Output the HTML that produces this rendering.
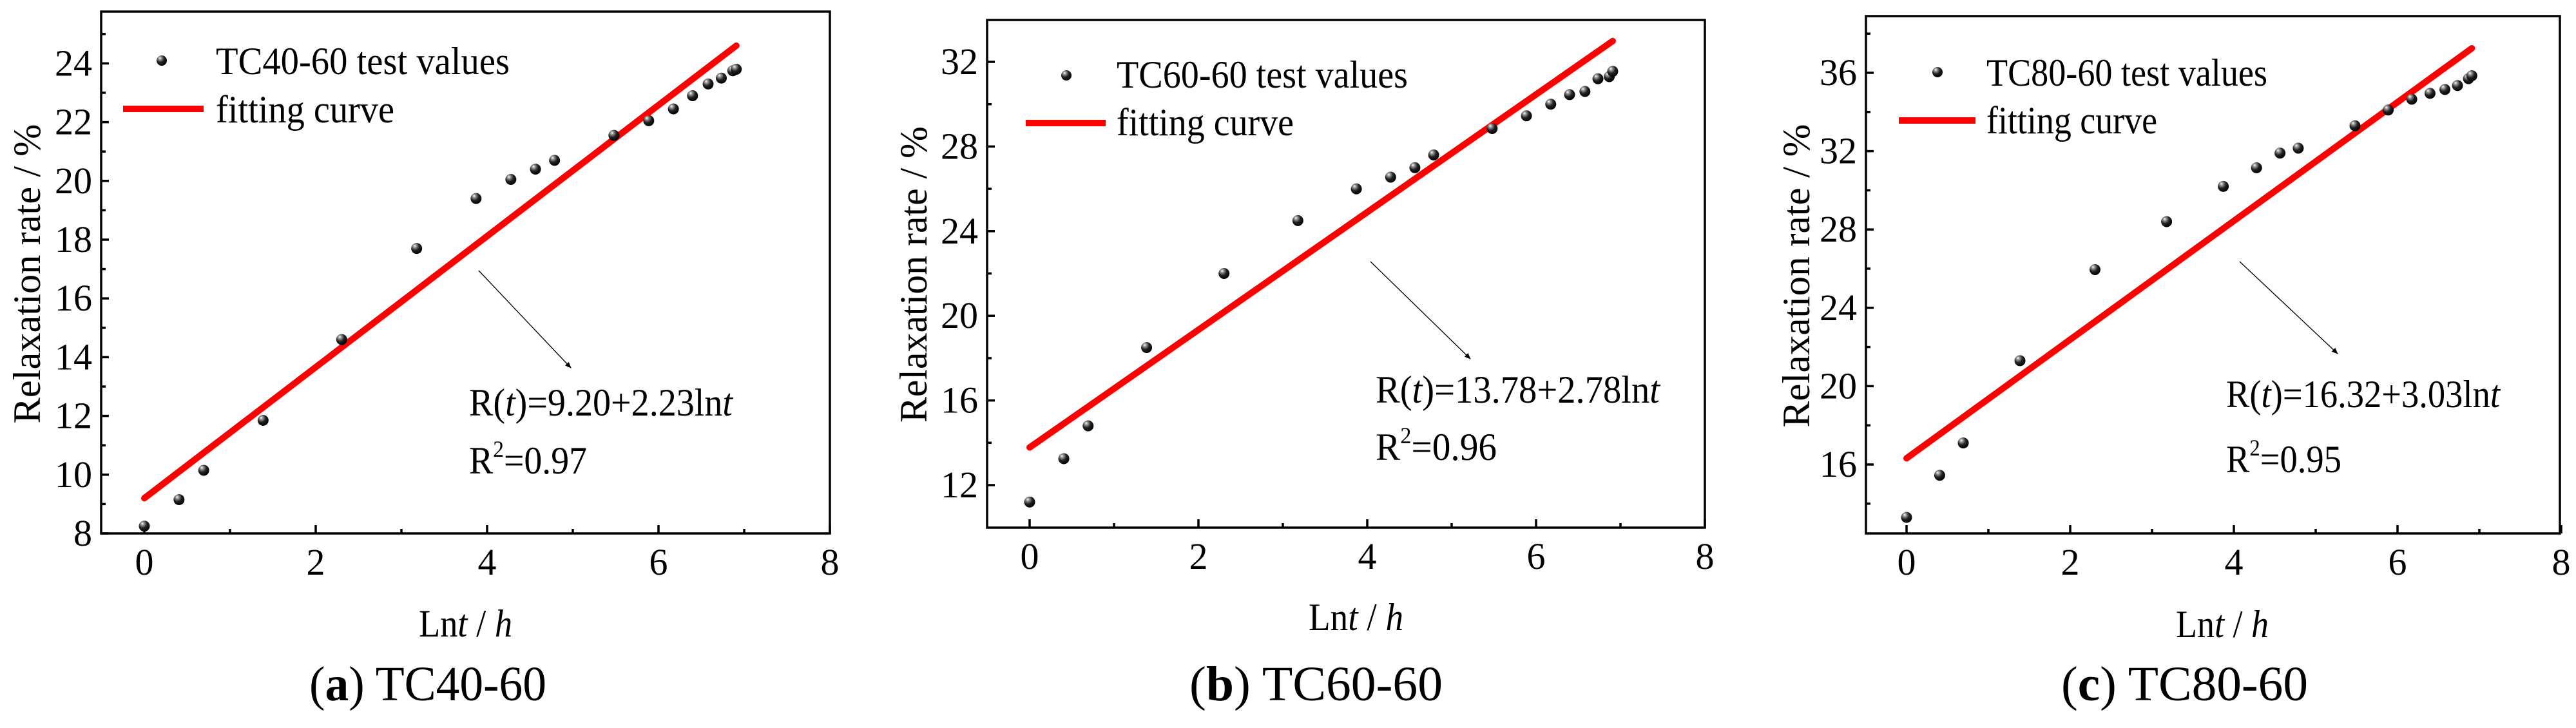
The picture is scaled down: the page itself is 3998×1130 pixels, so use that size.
<!DOCTYPE html>
<html><head><meta charset="utf-8">
<style>
html,body{margin:0;padding:0;background:#fff;}
svg{display:block;}
svg text, svg tspan{font-family:"Liberation Serif","Times New Roman",serif;fill:#000;}
</style></head>
<body>
<svg id="fig" width="3998" height="1130" viewBox="0 0 3998 1130" xmlns="http://www.w3.org/2000/svg" font-family="Liberation Serif, serif">
<defs>
<radialGradient id="ball" cx="0.38" cy="0.32" r="0.7" fx="0.32" fy="0.26">
<stop offset="0" stop-color="#ffffff"/>
<stop offset="0.2" stop-color="#9a9a9a"/>
<stop offset="0.55" stop-color="#222"/>
<stop offset="1" stop-color="#000"/>
</radialGradient>
<marker id="arrowhead" markerWidth="10" markerHeight="10" refX="9" refY="5" orient="auto" markerUnits="userSpaceOnUse">
<path d="M0,1 L10,5 L0,9 Z" fill="#000"/>
</marker>
</defs>
</svg>
<script>
// ---- data ----
const lnT = [0, 0.405, 0.693, 1.386, 2.303, 3.178, 3.871, 4.277, 4.564, 4.787, 5.48, 5.886, 6.174, 6.397, 6.579, 6.733, 6.867, 6.908];
const relaxA = [8.25, 9.15, 10.15, 11.85, 14.6, 17.7, 19.4, 20.05, 20.4, 20.7, 21.55, 22.05, 22.45, 22.9, 23.3, 23.5, 23.75, 23.8];
const relaxB = [11.2, 13.25, 14.8, 18.5, 22.0, 24.5, 26.0, 26.55, 27.0, 27.6, 28.85, 29.45, 30.0, 30.45, 30.6, 31.2, 31.3, 31.55];
const relaxC = [13.3, 15.45, 17.1, 21.3, 25.95, 28.4, 30.2, 31.15, 31.9, 32.15, 33.3, 34.1, 34.65, 34.95, 35.15, 35.35, 35.7, 35.85];
const fitInterceptA = 9.20, fitSlopeA = 2.23;
const fitInterceptB = 13.78, fitSlopeB = 2.78;
const fitInterceptC = 16.32, fitSlopeC = 3.03;
const fitRangeX = [0, 6.908];
const xTickLabels = [0, 2, 4, 6, 8];
const xMinorTicks = [1, 3, 5, 7];
const yTickLabelsA = [8, 10, 12, 14, 16, 18, 20, 22, 24];
const yMinorTicksA = [9, 11, 13, 15, 17, 19, 21, 23, 25];
const yTickLabelsB = [12, 16, 20, 24, 28, 32];
const yMinorTicksB = [14, 18, 22, 26, 30, 34];
const yTickLabelsC = [16, 20, 24, 28, 32, 36];
const yMinorTicksC = [14, 18, 22, 26, 30, 34, 38];

// ---- layout ----
const NS = "http://www.w3.org/2000/svg";
const svg = document.getElementById('fig');
function mk(tag, attrs, parent){
  const e = document.createElementNS(NS, tag);
  for (const k in attrs) e.setAttribute(k, attrs[k]);
  (parent||svg).appendChild(e);
  return e;
}
const panels = [
 {id:'a', label:'TC40-60', vals:relaxA, b0:fitInterceptA, b1:fitSlopeA, r2:'0.97',
  yt:yTickLabelsA, ym:yMinorTicksA, eqn:'9.20+2.23',
  L:157, R:1288, T:18, B:828, x0:224, ux:133, yref:8, yrefPx:828, uy:45.6,
  legMx:251, legMy:94, legTx:335, legTy:115, legTw:456, legLx1:191, legLx2:316, legLy:169, fitTy:190, fitTw:277,
  eqX:728, eqY:645, eqW:409, r2Y:735, r2W:183,
  arr:[743,420,886,571], xtX:650, xtY:988, xtW:145, ytX:62, ytY:425, ytW:465,
  capX:480, capY:1087, capW:368},
 {id:'b', label:'TC60-60', vals:relaxB, b0:fitInterceptB, b1:fitSlopeB, r2:'0.96',
  yt:yTickLabelsB, ym:yMinorTicksB, eqn:'13.78+2.78',
  L:1532, R:2646, T:31, B:819, x0:1598, ux:131, yref:12, yrefPx:753, uy:32.85,
  legMx:1655, legMy:117, legTx:1733, legTy:136, legTw:452, legLx1:1592, legLx2:1716, legLy:191, fitTy:210, fitTw:275,
  eqX:2135, eqY:625, eqW:441, r2Y:714, r2W:188,
  arr:[2127,406,2282,557], xtX:2031, xtY:978, xtW:147, ytX:1438, ytY:426, ytW:460,
  capX:1846, capY:1087, capW:393},
 {id:'c', label:'TC80-60', vals:relaxC, b0:fitInterceptC, b1:fitSlopeC, r2:'0.95',
  yt:yTickLabelsC, ym:yMinorTicksC, eqn:'16.32+3.03',
  L:2896, R:3973, T:25, B:828, x0:2959, ux:127, yref:16, yrefPx:721, uy:30.4,
  legMx:3007, legMy:112, legTx:3083, legTy:133, legTw:436, legLx1:2947, legLx2:3066, legLy:187, fitTy:207, fitTw:265,
  eqX:3455, eqY:632, eqW:425, r2Y:733, r2W:179,
  arr:[3476,406,3628,549], xtX:3377, xtY:989, xtW:144, ytX:2808, ytY:428, ytW:471,
  capX:3199, capY:1087, capW:383}
];

panels.forEach(p => {
  const g = mk('g', {});
  
  
  const X = v => p.x0 + v * p.ux;
  const Y = v => p.yrefPx - (v - p.yref) * p.uy;

  xTickLabels.forEach(v => {
    const t = mk('line', {x1:X(v), x2:X(v), y1:p.B, y2:p.B-13, stroke:'#000','stroke-width':3.5}, g);
    
    
    const lb = mk('text', {x:X(v), y:p.B+64, 'font-size':58, 'text-anchor':'middle'}, g);
    lb.innerHTML = '<tspan>' + v + '</tspan>';
    
    
  });
  xMinorTicks.forEach(v => {
    const t = mk('line', {x1:X(v), x2:X(v), y1:p.B, y2:p.B-7, stroke:'#000','stroke-width':3.5}, g);
    
    
  });
  p.yt.forEach(v => {
    const t = mk('line', {x1:p.L, x2:p.L+12, y1:Y(v), y2:Y(v), stroke:'#000','stroke-width':3.5}, g);
    
    
    const lb = mk('text', {x:p.L-14, y:Y(v)+19, 'font-size':58, 'text-anchor':'end'}, g);
    lb.innerHTML = '<tspan>' + v + '</tspan>';
    
    
  });
  p.ym.forEach(v => {
    if (Y(v) < p.T + 4) return;
    const t = mk('line', {x1:p.L, x2:p.L+7, y1:Y(v), y2:Y(v), stroke:'#000','stroke-width':3.5}, g);
    
    
  });

  const fr = mk('rect', {x:p.L, y:p.T, width:p.R-p.L, height:p.B-p.T, fill:'none', stroke:'#000', 'stroke-width':3.5}, g);
  
  

  const fl = mk('line', {x1:X(fitRangeX[0]), y1:Y(p.b0 + p.b1*fitRangeX[0]), x2:X(fitRangeX[1]), y2:Y(p.b0 + p.b1*fitRangeX[1]),
    stroke:'#ff0000', 'stroke-width':10, 'stroke-linecap':'round'}, g);
  
  

  lnT.forEach((xv, i) => {
    const c = mk('circle', {cx:X(xv), cy:Y(p.vals[i]), r:8.5, fill:'url(#ball)'}, g);
    
    
  });

  const lm = mk('circle', {cx:p.legMx, cy:p.legMy, r:8, fill:'url(#ball)'}, g);
  
  
  const lt = mk('text', {x:p.legTx, y:p.legTy, 'font-size':60, textLength:p.legTw, lengthAdjust:'spacingAndGlyphs'}, g);
  lt.innerHTML = p.label + ' test values';
  
  
  const ll = mk('line', {x1:p.legLx1, x2:p.legLx2, y1:p.legLy, y2:p.legLy, stroke:'#ff0000', 'stroke-width':10}, g);
  
  
  const lf = mk('text', {x:p.legTx, y:p.fitTy, 'font-size':60, textLength:p.fitTw, lengthAdjust:'spacingAndGlyphs'}, g);
  lf.innerHTML = 'fitting curve';
  
  

  const ar = mk('line', {x1:p.arr[0], y1:p.arr[1], x2:p.arr[2], y2:p.arr[3], stroke:'#000', 'stroke-width':1.3, 'marker-end':'url(#arrowhead)'}, g);
  
  

  const eq = mk('text', {x:p.eqX, y:p.eqY, 'font-size':60, textLength:p.eqW, lengthAdjust:'spacingAndGlyphs'}, g);
  eq.innerHTML = 'R(<tspan font-style="italic">t</tspan>)=' + p.eqn + 'ln<tspan font-style="italic">t</tspan>';
  
  
  const r2 = mk('text', {x:p.eqX, y:p.r2Y, 'font-size':60, textLength:p.r2W, lengthAdjust:'spacingAndGlyphs'}, g);
  r2.innerHTML = 'R<tspan font-size="36" dy="-26">2</tspan><tspan dy="26">=' + p.r2 + '</tspan>';
  
  

  const xt = mk('text', {x:p.xtX, y:p.xtY, 'font-size':60, textLength:p.xtW, lengthAdjust:'spacingAndGlyphs'}, g);
  xt.innerHTML = 'Ln<tspan font-style="italic">t</tspan> / <tspan font-style="italic">h</tspan>';
  
  
  const yt = mk('text', {x:p.ytX, y:p.ytY, 'font-size':60, 'text-anchor':'middle', textLength:p.ytW, lengthAdjust:'spacingAndGlyphs',
    transform:'rotate(-90 ' + p.ytX + ' ' + p.ytY + ')'}, g);
  yt.innerHTML = 'Relaxation rate / %';
  
  

  const cp = mk('text', {x:p.capX, y:p.capY, 'font-size':76, textLength:p.capW, lengthAdjust:'spacingAndGlyphs'}, g);
  cp.innerHTML = '(<tspan font-weight="bold">' + p.id + '</tspan>) ' + p.label;
  
  
});
</script>
</body></html>
